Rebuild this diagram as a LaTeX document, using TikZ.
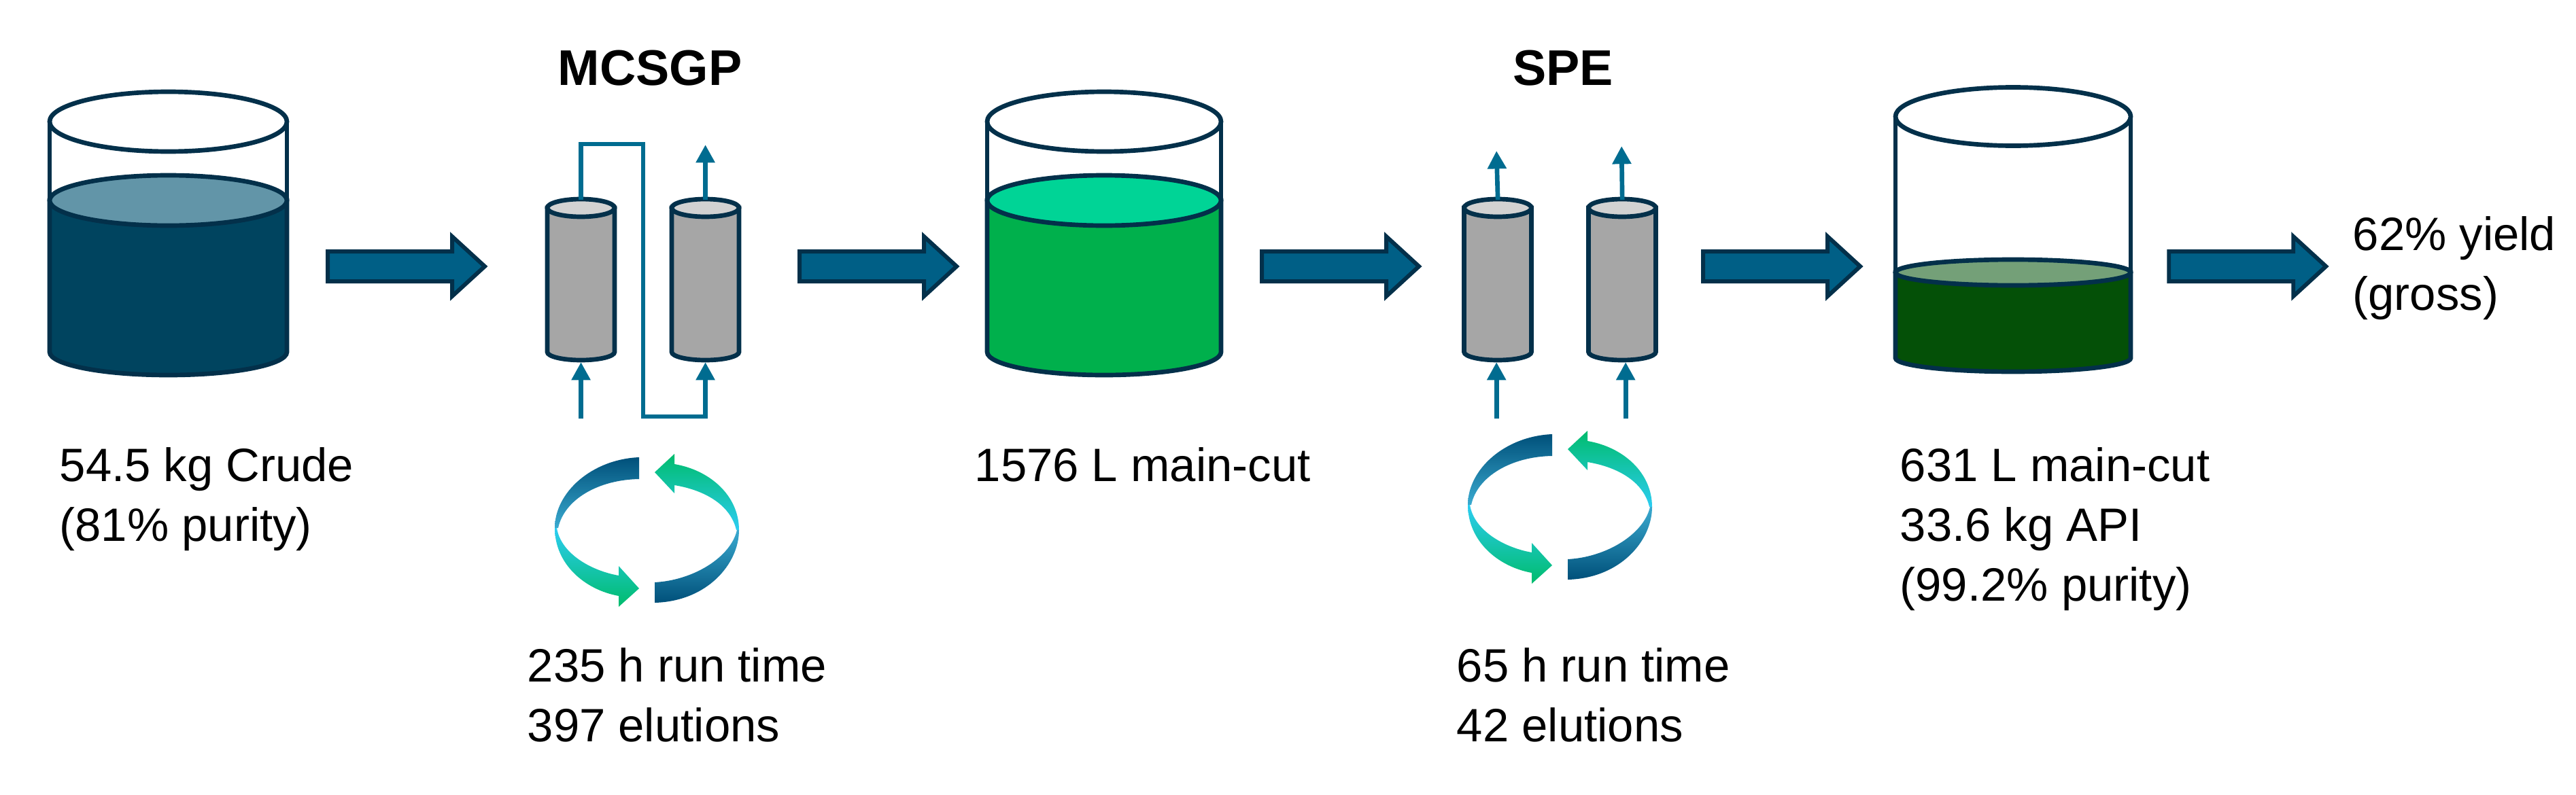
\documentclass[tikz,border=0pt]{standalone}
\usepackage{fontspec}
\setmainfont{Liberation Sans}
\usepackage{tikz}
\usetikzlibrary{arrows.meta}

\definecolor{edgedark}{HTML}{03304A}
\definecolor{flowblue}{HTML}{006C90}
\definecolor{arrowblue}{HTML}{005F86}
\definecolor{navyliquid}{HTML}{00445F}
\definecolor{navytop}{HTML}{6295A8}
\definecolor{greenliquid}{HTML}{00B04C}
\definecolor{greentop}{HTML}{00D496}
\definecolor{darkliquid}{HTML}{045007}
\definecolor{darktop}{HTML}{74A078}
\definecolor{colgray}{HTML}{A6A6A6}
\definecolor{coltop}{HTML}{D2D2D2}
\definecolor{ringdark}{HTML}{00507A}
\definecolor{ringmid}{HTML}{3AAAD0}
\definecolor{ringcyan}{HTML}{2CCDF2}
\definecolor{ringgreen}{HTML}{00BC6C}

\tikzset{
  tankline/.style={draw=edgedark, line width=1.9pt},
  flow/.style={draw=flowblue, line width=1.9pt},
  flowtip/.style={flow, -{Triangle[length=7.5pt,width=7.6pt]}},
  blockarrow/.style={draw=edgedark, fill=arrowblue, line width=1.7pt, line join=miter},
  label/.style={anchor=base west, align=left, font=\fontsize{19.6}{25}\selectfont},
  title/.style={anchor=base, font=\fontsize{21}{25}\selectfont\bfseries}
}

% one big arrow, #1 is its tail
\newcommand{\bigarrow}[1]{
\draw [blockarrow] (#1) ++(0.3,2.2) -- ++(18.3,0) -- ++(0,2.2) -- ++(4.8,-4.4) -- ++(-4.8,-4.4) -- ++(0,2.2) -- ++(-18.3,0) -- cycle;
}
% one column, #1 name, #2 centre x
\newcommand{\lccolumn}[2]{
\draw [tankline, fill=colgray] (#2-4.95,-30.6) -- (#2-4.95,-51.8) arc [start angle=180, end angle=360, x radius=4.95, y radius=1.2] -- (#2+4.95,-30.6) -- cycle;
\draw [tankline, fill=coltop] (#2,-30.6) ellipse [x radius=4.95, y radius=1.3];
\coordinate (#1t) at (#2,-29.4);
\coordinate (#1b) at (#2,-53.3);
}
% the four ribbons of a ring
\newcommand{\ringarrows}{
\shade [top color=ringdark, bottom color=ringmid] (94,-67.3) .. controls (87,-67.6) and (81.6,-72.5) .. (81.6,-77.7) -- (82.1,-77.7) .. controls (83,-73.5) and (88,-70.6) .. (94,-70.5) -- cycle;
\shade [top color=ringgreen, bottom color=ringcyan] (96.3,-69.5) -- (99.2,-66.8) -- (99.2,-68.3) .. controls (104.5,-69.2) and (108.7,-73) .. (108.7,-78) -- (108.3,-78) .. controls (107.5,-74.5) and (104,-72.2) .. (99.2,-71.4) -- (99.2,-72.6) -- cycle;
\shade [top color=ringcyan, bottom color=ringgreen] (81.6,-77.7) .. controls (81.6,-83) and (86,-86.8) .. (91,-87.7) -- (91,-89.3) -- (94,-86.6) -- (91,-83.3) -- (91,-84.7) .. controls (87,-84) and (82.5,-81.5) .. (81.9,-77.7) -- cycle;
\shade [top color=ringmid, bottom color=ringdark] (108.7,-78) .. controls (108.7,-83) and (104,-88.5) .. (96.3,-88.7) -- (96.3,-85.7) .. controls (102,-85.4) and (107.5,-82) .. (108.4,-78) -- cycle;
}

\begin{document}
\begin{tikzpicture}[scale=0.1, every node/.style={inner sep=0pt}]
\useasboundingbox (0,0) rectangle (378.9,-116.9);

% tanks
\draw [tankline, fill=navyliquid] (7.3,-29.5) -- (7.3,-51.8) arc [start angle=180, end angle=360, x radius=17.45, y radius=3.4] -- (42.2,-29.5) -- cycle;
\draw [tankline, fill=navytop] (24.75,-29.5) ellipse [x radius=17.45, y radius=3.7];
\draw [tankline] (7.3,-17.9) -- (7.3,-29.5) (42.2,-17.9) -- (42.2,-29.5);
\draw [tankline, fill=white] (24.75,-17.9) ellipse [x radius=17.45, y radius=4.4];

\draw [tankline, fill=greenliquid] (145.2,-29.5) -- (145.2,-51.8) arc [start angle=180, end angle=360, x radius=17.2, y radius=3.4] -- (179.6,-29.5) -- cycle;
\draw [tankline, fill=greentop] (162.4,-29.5) ellipse [x radius=17.2, y radius=3.7];
\draw [tankline] (145.2,-17.9) -- (145.2,-29.5) (179.6,-17.9) -- (179.6,-29.5);
\draw [tankline, fill=white] (162.4,-17.9) ellipse [x radius=17.2, y radius=4.4];

\draw [tankline, fill=darkliquid] (278.8,-40.1) -- (278.8,-52.7) arc [start angle=180, end angle=360, x radius=17.3, y radius=2] -- (313.4,-40.1) -- cycle;
\draw [tankline, fill=darktop] (296.1,-40.1) ellipse [x radius=17.3, y radius=1.9];
\draw [tankline] (278.8,-17.15) -- (278.8,-40.1) (313.4,-17.15) -- (313.4,-40.1);
\draw [tankline, fill=white] (296.1,-17.15) ellipse [x radius=17.3, y radius=4.3];

% big arrows
\coordinate (arrow1) at (47.9,-39.2);
\coordinate (arrow2) at (117.3,-39.2);
\coordinate (arrow3) at (185.3,-39.2);
\coordinate (arrow4) at (250.2,-39.2);
\coordinate (arrow5) at (318.7,-39.2);
\bigarrow{arrow1}
\bigarrow{arrow2}
\bigarrow{arrow3}
\bigarrow{arrow4}
\bigarrow{arrow5}

% columns
\lccolumn{col1}{85.45}
\lccolumn{col2}{103.75}
\lccolumn{col3}{220.3}
\lccolumn{col4}{238.6}

% MCSGP lines
\coordinate (in1) at (85.45,-61.6);
\coordinate (out2) at (103.75,-21.3);
\coordinate (linktop) at (94.6,-21.2);
\coordinate (linkbot) at (94.6,-61.3);
\draw [flowtip] (in1) -- (col1b);
\draw [flowtip] (col1t) |- (linktop) -- (linkbot) -| (col2b);
\draw [flowtip] (col2t) -- (out2);

% SPE lines
\coordinate (in3) at (220.1,-61.6);
\coordinate (in4) at (239.1,-61.6);
\coordinate (out3) at (220.1,-22.2);
\coordinate (out4) at (238.5,-21.5);
\draw [flowtip] (in3) -- (in3 |- col3b);
\draw [flowtip] (in4) -- (in4 |- col4b);
\draw [flowtip] (col3t) -- (out3);
\draw [flowtip] (col4t) -- (out4);

% rings
\ringarrows
\begin{scope}[shift={(134.3,3.4)}]
\ringarrows
\end{scope}

% labels
\node [title] (mcsgp) at (95.6,-12.5) {MCSGP};
\node [title] (spe) at (229.9,-12.5) {SPE};
\node [label] (crude) at (8.7,-79.6) {54.5 kg Crude\\(81\% purity)};
\node [label] (cut1) at (143.3,-70.8) {1576 L main-cut};
\node [label] (cut2) at (279.4,-88.4) {631 L main-cut\\33.6 kg API\\(99.2\% purity)};
\node [label] (run1) at (77.5,-109.1) {235 h run time\\397 elutions};
\node [label] (run2) at (214.2,-109.1) {65 h run time\\42 elutions};
\node [label] (yield) at (346,-45.6) {62\% yield\\(gross)};
\end{tikzpicture}
\end{document}
